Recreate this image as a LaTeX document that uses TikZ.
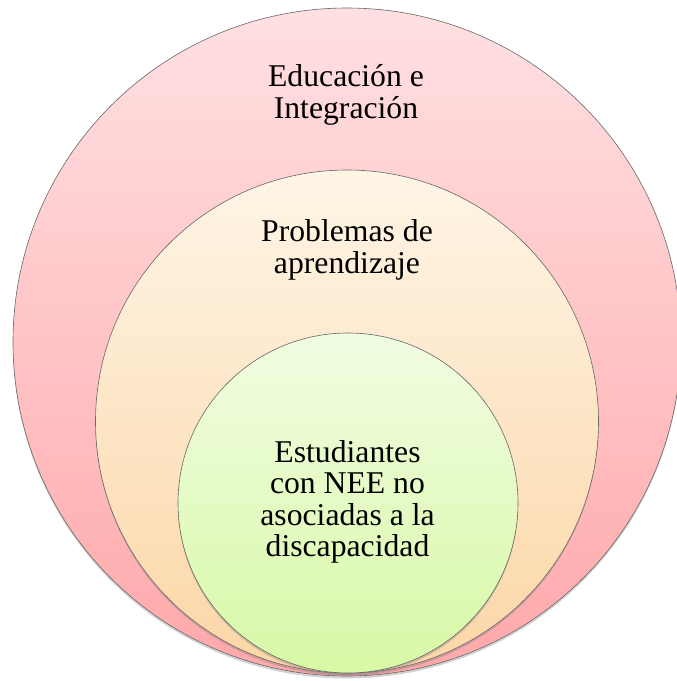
\documentclass[tikz,border=0pt]{standalone}
\usepackage{fontspec}
\setmainfont{LiberationSerif-Regular.ttf}
\usetikzlibrary{shapes, shadows}

\definecolor{pinktop}{RGB}{255,224,226}
\definecolor{pinkbot}{RGB}{255,168,170}
\definecolor{peachtop}{RGB}{254,245,230}
\definecolor{peachbot}{RGB}{252,214,166}
\definecolor{greentop}{RGB}{241,252,226}
\definecolor{greenbot}{RGB}{216,249,166}

\begin{document}
\begin{tikzpicture}[x=1pt, y=-1pt]
      \tikzstyle{ring} = [
        circle,
        draw=black!60,
        line width=0.6pt,
        inner sep = 0pt,
        drop shadow={shadow xshift=0pt, shadow yshift=-2.5pt, opacity=0.35}
      ]

      \tikzstyle{caption} = [
        align=center,
        text=black,
        inner sep = 0pt,
        font=\rmfamily\fontsize{31.7}{31.5}\selectfont
      ]

      \useasboundingbox (0,0) rectangle (677,681);

      \node[ring, top color=pinktop, bottom color=pinkbot,
        minimum size=668pt] (educacion) at (347,342) {};
      \node[ring, top color=peachtop, bottom color=peachbot,
        minimum size=503pt] (problemas) at (347,421.5) {};
      \node[ring, top color=greentop, bottom color=greenbot,
        minimum size=340pt] (estudiantes) at (348,503) {};

      \node[caption] (educacion text) at (346,95) {Educación e\\Integración};
      \node[caption] (problemas text) at (347,250) {Problemas de\\aprendizaje};
      \node[caption] (estudiantes text) at (347.5,502) {Estudiantes\\con NEE no\\asociadas a la\\discapacidad};
    \end{tikzpicture}
\end{document}
